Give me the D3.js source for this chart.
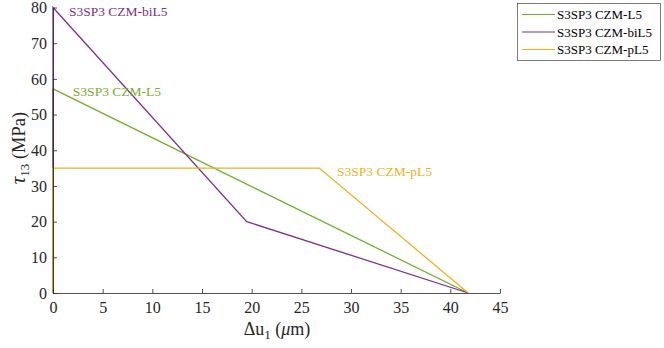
<!DOCTYPE html>
<html><head><meta charset="utf-8">
<script src="https://cdn.jsdelivr.net/npm/d3@7"></script>
<style>body{margin:0;background:#fff}svg{display:block}
text{font-family:'Liberation Serif','Times New Roman',Times,serif}</style>
</head><body>
<svg id="c" width="664" height="348"></svg>
<script>
const seriesNames = ["S3SP3 CZM-L5", "S3SP3 CZM-biL5", "S3SP3 CZM-pL5"];
const seriesColors = ["#77AC30", "#7E2F8E", "#EDB120"];
const L5 = [[0,0],[0,57.2],[41.8,0]];
const biL5 = [[0,0],[0,80],[19.5,20],[41.8,0]];
const pL5 = [[0,0],[0,35],[26.8,35],[41.8,0]];
const xTicks = [0,5,10,15,20,25,30,35,40,45];
const yTicks = [0,10,20,30,40,50,60,70,80];
const labelPos = [[2,56.5],[1.6,79],[28.6,34.2]];

const svg = d3.select("#c");
const x = d3.scaleLinear().domain([0,45]).range([53,500]);
const y = d3.scaleLinear().domain([0,80]).range([293,7.5]);
const axCol = "#262626";

const data = [L5, biL5, pL5];
const line = d3.line().x(d=>x(d[0])).y(d=>y(d[1]));
data.forEach((d,i)=>{
  svg.append("path").attr("d", line(d)).attr("fill","none")
    .attr("stroke", seriesColors[i]).attr("stroke-width",1.3);
});

const xAxis = d3.axisBottom(x).tickValues(xTicks).tickSizeInner(-4).tickSizeOuter(0).tickPadding(6);
const gx = svg.append("g").attr("transform",`translate(0,${y(0)})`).call(xAxis);
const yAxis = d3.axisLeft(y).tickValues(yTicks).tickSizeInner(-4).tickSizeOuter(0).tickPadding(6);
const gy = svg.append("g").attr("transform",`translate(${x(0)},0)`).call(yAxis);
[gx,gy].forEach(g=>{
  g.attr("font-family", null);
  g.selectAll("path,line").attr("stroke",axCol).attr("stroke-width",0.8);
  g.selectAll("text").attr("fill",axCol).style("font-size","16px");
});
gx.selectAll("text").attr("dy","0.85em");

data.forEach((d,i)=>{
  const p = labelPos[i];
  svg.append("text").attr("x", x(p[0])).attr("y", y(p[1]))
    .attr("dy", "0.35em")
    .attr("fill", seriesColors[i]).style("font-size","13.5px")
    .text(seriesNames[i]);
});

const xl = svg.append("text").attr("x", 277).attr("y", 335).attr("text-anchor","middle")
  .attr("fill",axCol).style("font-size","18px");
xl.append("tspan").text("Δu");
xl.append("tspan").attr("font-size","13px").attr("dy",4).text("1");
xl.append("tspan").attr("dy",-4).text(" (");
xl.append("tspan").attr("font-style","italic").text("μ");
xl.append("tspan").text("m)");

const yl = svg.append("text").attr("transform","translate(25,148) rotate(-90)").attr("text-anchor","middle")
  .attr("fill",axCol).style("font-size","18.5px");
yl.append("tspan").attr("font-style","italic").attr("font-size","21px").text("τ");
yl.append("tspan").attr("font-size","13px").attr("dy",4).text("13");
yl.append("tspan").attr("dy",-4).text(" (MPa)");

const lg = svg.append("g");
lg.append("rect").attr("x",517.5).attr("y",3.5).attr("width",143).attr("height",57)
  .attr("fill","#fff").attr("stroke","#262626").attr("stroke-width",0.6);
seriesNames.forEach((n,i)=>{
  const yy = 14.5 + i*17.5;
  lg.append("line").attr("x1",522).attr("x2",555).attr("y1",yy).attr("y2",yy)
    .attr("stroke",seriesColors[i]).attr("stroke-width",1.2);
  lg.append("text").attr("x",557).attr("y",yy).attr("dy","0.35em").attr("fill","#000")
    .style("font-size","13px").text(n);
});
</script>
</body></html>
